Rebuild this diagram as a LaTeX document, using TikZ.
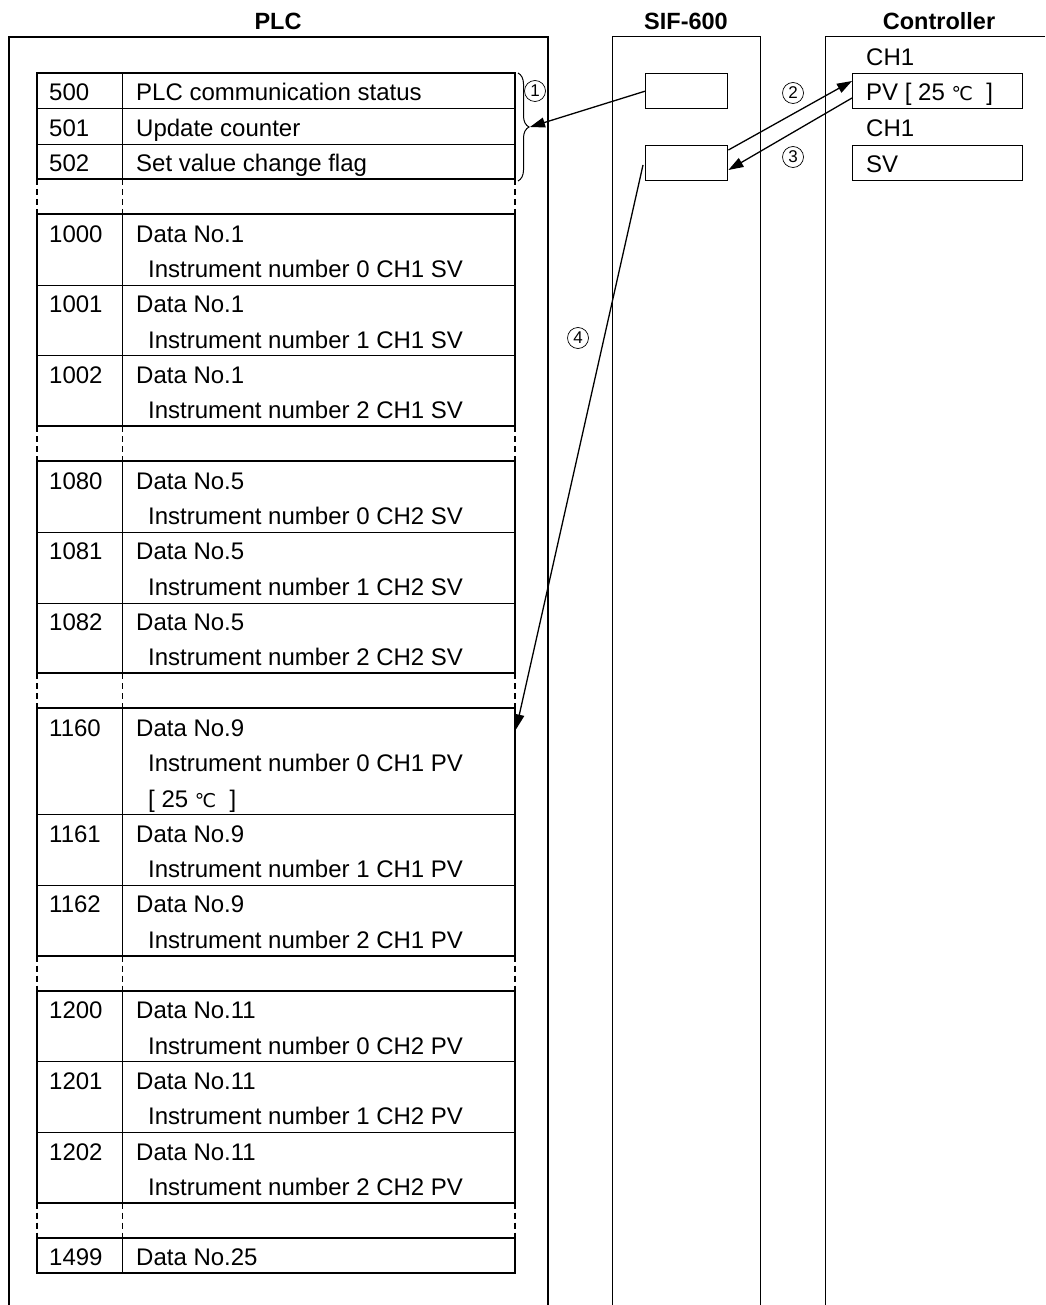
\documentclass[tikz,border=0pt]{standalone}
\usepackage{fontspec}
\setmainfont{Liberation Sans}
\newfontfamily\dejavufont{DejaVu Sans}
\usetikzlibrary{arrows.meta,decorations.pathreplacing}

\tikzset{
  addrcell/.style={draw, line width=1pt, rectangle, anchor=north west, inner sep=0pt, minimum width=85pt},
  datacell/.style={draw, line width=1pt, rectangle, anchor=north west, inner sep=0pt, minimum width=393pt},
  txt/.style={anchor=base west, inner sep=0pt, font=\fontsize{24}{28}\selectfont},
  head/.style={anchor=base, inner sep=0pt, font=\fontsize{23.5}{28}\selectfont\bfseries},
  regbox/.style={draw, line width=1.4pt, rectangle, anchor=north west, inner sep=0pt, minimum width=82pt, minimum height=35pt},
  chbox/.style={draw, line width=1.4pt, rectangle, anchor=north west, inner sep=0pt, minimum width=170pt, minimum height=35pt},
  circnum/.style={circle, draw, line width=0.7pt, minimum size=21pt, inner sep=0pt, font=\fontsize{17}{18}\selectfont},
  flow/.style={line width=1.3pt, -{Triangle[length=15pt,width=10pt]}},
  gapline/.style={dash pattern=on 6pt off 4pt},
}
\newcommand{\degc}{{\dejavufont\fontsize{19}{20}\selectfont ℃}}

\begin{document}
\begin{tikzpicture}[x=1pt, y=-1pt]
  \useasboundingbox (0,0) rectangle (1045,1305);

  % headers and columns
  \node[head] (hplc) at (278,30) {PLC};
  \node[head] (hsif) at (686,30) {SIF-600};
  \node[head] (hctl) at (939,30) {Controller};
  \draw[line width=2pt] (9,1305) |- (548,37) -- (548,1305);
  \draw[line width=1pt] (612,1305) |- (760,37) -- (760,1305);
  \draw[line width=1pt] (1045,37) -| (825,1305);

  % PLC registers, one line
  \foreach \addr/\s/\first in {500/0/PLC communication status, 501/1/Update counter,
      502/2/Set value change flag, 1499/33/Data No.25} {
    \pgfmathsetmacro\rowtop{73+35.3*\s}
    \node[addrcell, minimum height=35.3pt] (a\addr) at (37,\rowtop) {};
    \node[datacell, minimum height=35.3pt] (d\addr) at (122,\rowtop) {};
    \node[txt] (n\addr) at (49,\rowtop+28) {\addr};
    \node[txt] (f\addr) at (136,\rowtop+28) {\first};
  }

  % PLC registers, two or three lines
  \foreach \addr/\s/\n/\first/\second in {
      1000/4/2/Data No.1/Instrument number 0 CH1 SV,
      1001/6/2/Data No.1/Instrument number 1 CH1 SV,
      1002/8/2/Data No.1/Instrument number 2 CH1 SV,
      1080/11/2/Data No.5/Instrument number 0 CH2 SV,
      1081/13/2/Data No.5/Instrument number 1 CH2 SV,
      1082/15/2/Data No.5/Instrument number 2 CH2 SV,
      1160/18/3/Data No.9/Instrument number 0 CH1 PV,
      1161/21/2/Data No.9/Instrument number 1 CH1 PV,
      1162/23/2/Data No.9/Instrument number 2 CH1 PV,
      1200/26/2/Data No.11/Instrument number 0 CH2 PV,
      1201/28/2/Data No.11/Instrument number 1 CH2 PV,
      1202/30/2/Data No.11/Instrument number 2 CH2 PV} {
    \pgfmathsetmacro\rowtop{73+35.3*\s}
    \node[addrcell, minimum height=\n*35.3pt] (a\addr) at (37,\rowtop) {};
    \node[datacell, minimum height=\n*35.3pt] (d\addr) at (122,\rowtop) {};
    \node[txt] (n\addr) at (49,\rowtop+28) {\addr};
    \node[txt] (f\addr) at (136,\rowtop+28) {\first};
    \node[txt] (s\addr) at (148,\rowtop+63.3) {\second};
  }
  \node[txt] (v1160) at (148,{73+35.3*18+98.6}) {[ 25 \degc\ \ ]};

  % block frames and skipped ranges
  \foreach \a/\b in {0/3, 4/10, 11/17, 18/25, 26/32, 33/34}
    \draw[line width=2pt] (37,{73+35.3*\a}) rectangle (515,{73+35.3*\b});
  \foreach \g in {3,10,17,25,32} {
    \draw[gapline, line width=2pt] (37,{73+35.3*\g}) -- ++(0,35.3);
    \draw[gapline, line width=0.8pt] (122,{73+35.3*\g}) -- ++(0,35.3);
    \draw[gapline, line width=2pt] (515,{73+35.3*\g}) -- ++(0,35.3);
  }
  \draw[line width=1pt, decorate, decoration={brace, amplitude=11pt}] (518,73) -- (518,181);
  \coordinate (brtip) at (530,127);

  % SIF-600 and controller
  \node[regbox] (sif1) at (645,73) {};
  \node[regbox] (sif2) at (645,145) {};
  \node[txt] (ch1a) at (866,66) {CH1};
  \node[chbox] (pv) at (852,73) {};
  \node[txt] (pvt) at (866,101) {PV [ 25 \degc\ \ ]};
  \node[txt] (ch1b) at (866,137) {CH1};
  \node[chbox] (sv) at (852,145) {};
  \node[txt] (svt) at (866,173) {SV};

  % data flow
  \node[circnum] (c1) at (535,91) {1};
  \node[circnum] (c2) at (793,93) {2};
  \node[circnum] (c3) at (793,157) {3};
  \node[circnum] (c4) at (578,338) {4};
  \coordinate (src4) at (643,165);
  \draw[flow] (sif1.west) -- (brtip);
  \draw[flow] ([yshift=-5pt]sif2.north east) -- ([yshift=-8pt]pv.north west);
  \draw[flow] ([yshift=-25pt]pv.north west) -- ([yshift=-25pt]sif2.north east);
  \draw[flow] (src4) -- ([yshift=-21pt]d1160.north east);
\end{tikzpicture}
\end{document}
